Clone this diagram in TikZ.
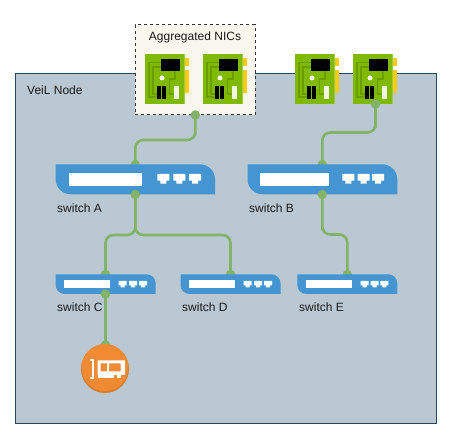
\documentclass[tikz,border=0pt]{standalone}
\usepackage{fontspec}
\setmainfont{Liberation Sans}
\definecolor{contfill}{HTML}{BAC8D3}
\definecolor{contline}{HTML}{23445D}
\definecolor{aggfill}{HTML}{F9F7ED}
\definecolor{linkgreen}{HTML}{82B366}
\definecolor{swblue}{HTML}{4495D1}
\definecolor{board}{HTML}{7FBA00}
\definecolor{tracegreen}{HTML}{6A9E00}
\definecolor{nicpin}{HTML}{FFCA14}
\definecolor{nicorange}{HTML}{F08A33}
\definecolor{nicshade}{HTML}{DB7A28}
\tikzset{
  x=1pt,y=-1pt,
  lbl/.style={font=\fontsize{12}{14}\selectfont,text=black!90,inner sep=0pt,anchor=west},
  link/.style={draw=linkgreen,line width=2.6pt,rounded corners=8pt},
  dotmark/.style={circle,fill=linkgreen,draw=none,minimum size=9.5pt,inner sep=0pt},
  nicbox/.style={rectangle,fill=board,draw=none,minimum width=39.7pt,minimum height=50pt,inner sep=0pt,anchor=north west},
  swbox/.style={rectangle,draw=none,inner sep=0pt,anchor=north west},
}
% name, left x, top y
\newcommand{\nicboard}[3]{%
  \begin{scope}[shift={(#2,#3)}]
    \fill[nicpin] (40,4) rectangle (44,12);
    \fill[nicpin] (40,16) rectangle (44,39);
    \node[nicbox] (#1) at (0,0) {};
    \fill[board!75!white] (39,0) rectangle (40,50);
    \draw[tracegreen,line width=1.5pt] (16,8.5) -- (4,8.5) -- (4,43) -- (12,43);
    \draw[tracegreen,line width=1.5pt] (16,13) -- (8,13) -- (8,40) -- (12,40);
    \draw[tracegreen,line width=1.5pt] (30,17) -- (30,25) -- (24.5,25) -- (24.5,40) -- (29,40);
    \fill[black] (16,5) rectangle (34.5,17);
    \fill[aggfill] (17,24) circle (2.5);
    \fill[black] (12.3,32) rectangle (16,45);
    \fill[black] (17.3,32) rectangle (21,45);
    \fill[white!88!board] (29.3,32) rectangle (33.7,45);
  \end{scope}}
% port glyph centred at x, top y
\newcommand{\swport}[3]{%
  \fill[white] (#1-#3,#2) -- (#1+#3,#2) -- (#1+#3,#2+#3*1.1) -- (#1+#3*.5,#2+#3*1.1) -- (#1+#3*.5,#2+#3*1.6) -- (#1-#3*.5,#2+#3*1.6) -- (#1-#3*.5,#2+#3*1.1) -- (#1-#3,#2+#3*1.1) -- cycle;}
% name, x, y, w, h, radius
\newcommand{\switchbody}[6]{%
  \node[swbox,minimum width=#4pt,minimum height=#5pt] (#1) at (#2,#3) {};
  \fill[swblue] (#2,#3) -- (#2+#4-#6,#3) .. controls (#2+#4-#6*.45,#3) and (#2+#4,#3+#6*.45) .. (#2+#4,#3+#6)
     -- (#2+#4,#3+#5) -- (#2+#6,#3+#5) .. controls (#2+#6*.45,#3+#5) and (#2,#3+#5-#6*.45) .. (#2,#3+#5-#6) -- cycle;}
\begin{document}
\begin{tikzpicture}
\useasboundingbox (0,0) rectangle (451,441);
\node[rectangle,fill=contfill,draw=contline,line width=1pt,minimum width=420.5pt,minimum height=350.5pt,inner sep=0pt,anchor=north west] (node) at (15,73) {};
\node[rectangle,fill=aggfill,draw=black!80,dashed,line width=.8pt,minimum width=120pt,minimum height=90pt,inner sep=0pt,anchor=north west] (agg) at (135,24.5) {};
\node[lbl] (nodelbl) at (27,90.5) {VeiL Node};
\node[lbl,anchor=center] (agglbl) at (195,37.5) {Aggregated NICs};
\nicboard{nica}{145}{54}
\nicboard{nicb}{203}{54}
\nicboard{nicc}{295}{54}
\nicboard{nicd}{353}{54}
% anchors of the connectors
\coordinate (nicbout) at (195.3,115);
\coordinate (nicdout) at (375.5,104);
\coordinate (swAin) at (135.3,164.5);
\coordinate (swAout) at (135.3,194.5);
\coordinate (swBin) at (322.3,164.5);
\coordinate (swBout) at (322.3,194.5);
\coordinate (swCin) at (105.5,274.5);
\coordinate (swCout) at (105.5,294);
\coordinate (swDin) at (230.5,274.5);
\coordinate (swEin) at (347.3,274.5);
\coordinate (orangein) at (105.5,345);
\draw[link] (nicbout) |- (195.3,140) -| (swAin);
\draw[link] (nicdout) |- (375.5,132.5) -| (swBin);
\draw[link] (swAout) |- (135.3,235) -| (swCin);
\draw[link] (swAout) |- (135.3,235) -| (swDin);
\draw[link] (swBout) |- (322.3,234.5) -| (swEin);
\draw[link,rounded corners=0pt] (swCout) -- (orangein);
\foreach \p in {swAin,swBin,swCin,swDin,swEin,orangein}{\node[dotmark] at (\p) {};}
% switches
\switchbody{swA}{55.7}{164.3}{159.3}{30}{15}
\switchbody{swB}{247.5}{164.3}{149.8}{30}{15}
\switchbody{swC}{55.7}{274.3}{100}{19.7}{9}
\switchbody{swD}{180.5}{274.3}{100}{19.7}{9}
\switchbody{swE}{297.3}{274.3}{100}{19.7}{9}
\fill[white] (69.3,173.3) rectangle (142.3,185.7);
\fill[white] (260,173.3) rectangle (329,185.7);
\fill[white] (64,280.3) rectangle (110,288.3);
\fill[white] (189,280.3) rectangle (235,288.3);
\fill[white] (306,280.3) rectangle (352,288.3);
\foreach \c in {163.3,179.3,195}{\swport{\c}{174}{6}}
\foreach \c in {348.3,363.5,378}{\swport{\c}{174}{6}}
\foreach \c in {122.7,133,143}{\swport{\c}{281}{4}}
\foreach \c in {247.7,258,268}{\swport{\c}{281}{4}}
\foreach \c in {364.7,374.5,384.3}{\swport{\c}{281}{4}}
\foreach \p in {nicbout,nicdout,swAout,swBout,swCout}{\node[dotmark] at (\p) {};}
\node[lbl] (lblA) at (57,208) {switch A};
\node[lbl] (lblB) at (249,208) {switch B};
\node[lbl] (lblC) at (57,307) {switch C};
\node[lbl] (lblD) at (182,307) {switch D};
\node[lbl] (lblE) at (299,307) {switch E};
% orange NIC
\fill[nicshade] (105,369) circle (24);
\node[circle,fill=nicorange,draw=none,minimum size=47pt,inner sep=0pt] (orange) at (105,367.5) {};
\draw[white,line width=1.6pt] (90,359.8) -- (92.7,359.8) -- (92.7,378.2) -- (90,378.2);
\fill[white,even odd rule] (97.5,360.5) rectangle (125,375) (100.5,363.5) rectangle (107,371.5) (109,363.5) rectangle (120.5,371.5);
\fill[white] (97.5,375) rectangle (113.5,378.5);
\fill[white] (116.5,375) rectangle (120.5,378.5);
\end{tikzpicture}
\end{document}
